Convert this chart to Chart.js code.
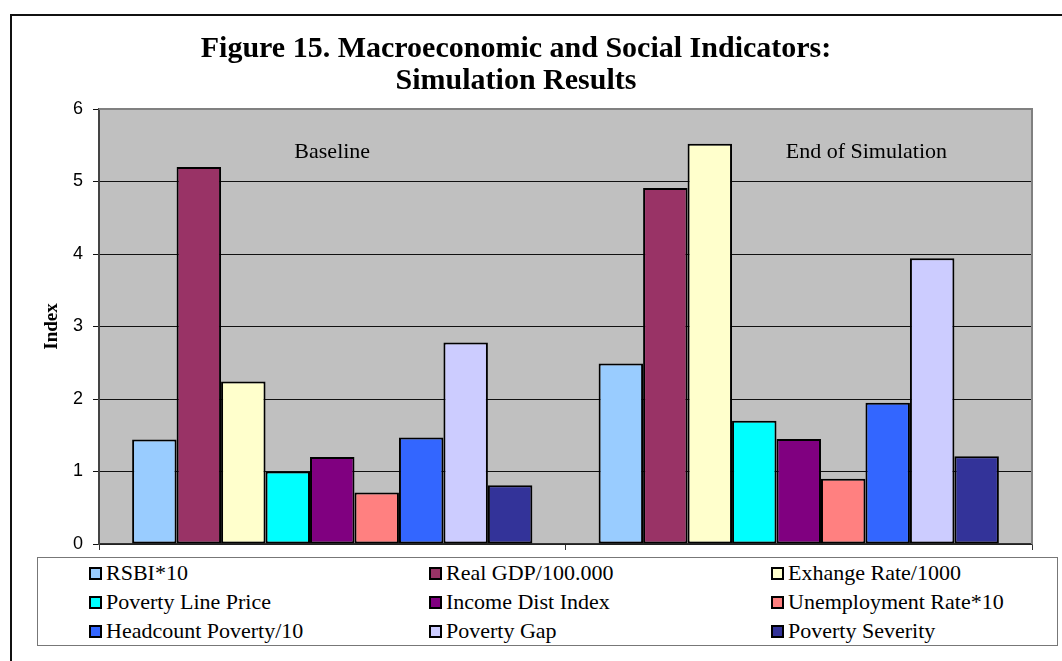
<!DOCTYPE html>
<html>
<head>
<meta charset="utf-8">
<script src="https://cdn.jsdelivr.net/npm/chart.js@4/dist/chart.umd.min.js"></script>
<style>
  html, body { margin: 0; padding: 0; background: #fff; overflow: hidden; }
  #wrap { position: relative; width: 1062px; height: 661px; }
  #frame { position: absolute; left: 10px; top: 14px; width: 1100px; height: 700px; border: 2px solid #111; }
  #chart { position: absolute; left: 0; top: 0; }
  #legend { position: absolute; left: 37px; top: 557px; width: 1019px; height: 87px; border: 1px solid #777; background: #fff; }
  .item { position: absolute; display: flex; align-items: center; height: 28px; font: 22px "Liberation Serif", "Times New Roman", serif; color: #000; white-space: nowrap; }
  .box { width: 13px; height: 13px; box-sizing: border-box; border: 2px solid #000; margin-right: 4px; }
</style>
</head>
<body>
<div id="wrap">
  <div id="frame"></div>
  <canvas id="chart" width="1062" height="661"></canvas>
  <div id="legend"></div>
</div>
<script>
const categories = ['Baseline', 'End of Simulation'];

const rsbi        = [1.44, 2.49];
const realGdp     = [5.20, 4.91];
const exchange    = [2.24, 5.52];
const povLine     = [1.00, 1.70];
const incomeDist  = [1.20, 1.45];
const unemploy    = [0.71, 0.90];
const headcount   = [1.47, 1.95];
const povGap      = [2.78, 3.94];
const povSeverity = [0.81, 1.21];

const seriesNames = ['RSBI*10', 'Real GDP/100.000', 'Exhange Rate/1000', 'Poverty Line Price',
  'Income Dist Index', 'Unemployment Rate*10', 'Headcount Poverty/10', 'Poverty Gap', 'Poverty Severity'];
const seriesValues = [rsbi, realGdp, exchange, povLine, incomeDist, unemploy, headcount, povGap, povSeverity];
const seriesColors = ['#99CCFF', '#993366', '#FFFFCC', '#00FFFF', '#800080', '#FF8080', '#3366FF', '#CCCCFF', '#333399'];

const yTicks = [0, 1, 2, 3, 4, 5, 6];

// grey plot area + grey frame on top/right, category captions inside the plot
const plotDecor = {
  id: 'plotDecor',
  beforeDraw(chart) {
    const { ctx, chartArea: a } = chart;
    ctx.save();
    ctx.fillStyle = '#C0C0C0';
    ctx.fillRect(a.left, a.top, a.right - a.left, a.bottom - a.top);
    ctx.restore();
  },
  afterDatasetsDraw(chart) {
    const { ctx, chartArea: a, scales } = chart;
    ctx.save();
    ctx.strokeStyle = '#808080';
    ctx.lineWidth = 2;
    ctx.beginPath();
    ctx.moveTo(a.left, a.top);
    ctx.lineTo(a.right, a.top);
    ctx.lineTo(a.right, a.bottom);
    ctx.stroke();

    ctx.fillStyle = '#000';
    ctx.font = '22px "Liberation Serif", serif';
    ctx.textAlign = 'center';
    ctx.textBaseline = 'middle';
    const y = scales.y.getPixelForValue(5.4);
    const catW = scales.x.getPixelForValue(1) - scales.x.getPixelForValue(0);
    ctx.fillText(categories[0], scales.x.getPixelForValue(0), y);
    ctx.fillText(categories[1], scales.x.getPixelForValue(1) + catW * 0.145, y);
    ctx.restore();
  }
};

const chart = new Chart(document.getElementById('chart'), {
  type: 'bar',
  data: {
    labels: categories,
    datasets: seriesNames.map((name, i) => ({
      label: name,
      data: seriesValues[i],
      backgroundColor: seriesColors[i],
      borderColor: '#000',
      borderWidth: 2,
      borderSkipped: false
    }))
  },
  options: {
    responsive: false,
    animation: false,
    events: [],
    layout: { padding: { left: 0, right: 30, top: 0, bottom: 111 } },
    datasets: { bar: { barPercentage: 1, categoryPercentage: 0.858 } },
    plugins: {
      legend: { display: false },
      tooltip: { enabled: false },
      title: {
        display: true,
        text: ['Figure 15. Macroeconomic and Social Indicators:', 'Simulation Results'],
        color: '#000',
        font: { family: '"Liberation Serif", serif', size: 30, weight: 'bold', lineHeight: 1.0667 },
        padding: { top: 33, bottom: 12 }
      }
    },
    scales: {
      x: {
        ticks: { display: false },
        grid: { offset: true, drawOnChartArea: false, drawTicks: true, tickLength: 6, color: '#333' },
        border: { display: true, color: '#333', width: 1.5 }
      },
      y: {
        min: 0, max: 6,
        afterBuildTicks(scale) { scale.ticks = yTicks.map(v => ({ value: v })); },
        afterFit(scale) { scale.width = 99; },
        ticks: { color: '#000', padding: 10, font: { family: '"Liberation Sans", Arial, sans-serif', size: 18 } },
        grid: { color: '#111', lineWidth: 1, tickLength: 6 },
        border: { display: true, color: '#444', width: 2 },
        title: {
          display: true, text: 'Index', color: '#000',
          font: { family: '"Liberation Serif", serif', size: 19, weight: 'bold' },
          padding: { top: 41, bottom: 0 }
        }
      }
    }
  },
  plugins: [plotDecor]
});

// three-column legend built from the chart's datasets
const legend = document.getElementById('legend');
const colX = [51, 391, 733];
const rowY = [1, 30, 59];
chart.data.datasets.forEach((ds, i) => {
  const el = document.createElement('div');
  el.className = 'item';
  el.style.left = colX[i % 3] + 'px';
  el.style.top = rowY[Math.floor(i / 3)] + 'px';
  const box = document.createElement('span');
  box.className = 'box';
  box.style.background = ds.backgroundColor;
  const txt = document.createElement('span');
  txt.textContent = ds.label;
  el.appendChild(box);
  el.appendChild(txt);
  legend.appendChild(el);
});
</script>
</body>
</html>
